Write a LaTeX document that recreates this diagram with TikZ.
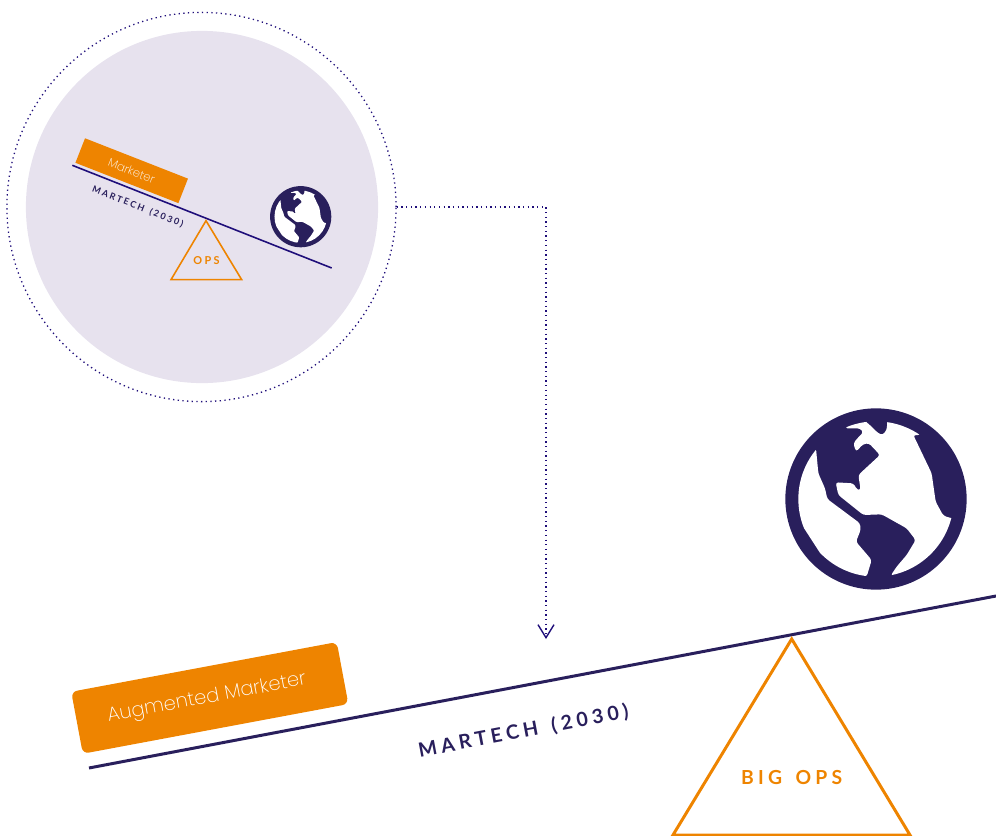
\documentclass[tikz,border=0pt]{standalone}
\usepackage{fontspec}
\usetikzlibrary{arrows.meta}
\newfontfamily\capsfont[LetterSpace=22, WordSpace=1.5]{Lato}
\newfontfamily\thinfont{Poppins ExtraLight}
\definecolor{navy}{HTML}{291F5C}
\definecolor{inkblue}{HTML}{1F0E7A}
\definecolor{amber}{HTML}{EE8400}
\definecolor{lilac}{HTML}{E7E2EE}

\begin{document}
\begin{tikzpicture}[x = 0.01cm, y = -0.01cm]
    \tikzset{
        plank/.style = {
            fill = amber,
            text = white,
            inner sep = 0pt,
            font = \thinfont
        },
        opslabel/.style = {
            text = amber,
            inner sep = 0pt
        },
        beamlabel/.style = {
            text = navy,
            inner sep = 0pt
        },
        fulcrum/.style = {
            draw = amber,
            miter limit = 10
        },
        dottedline/.style = {
            draw = inkblue,
            line width = 0.37pt,
            dash pattern = on 0.37pt off 0.96pt
        }
    }

    \useasboundingbox (0, 0) rectangle (996, 836);

    % inset
    \node[circle, dottedline, inner sep = 0pt, minimum size = 3.89cm] (ring) at (201.5, 207) {};
    \node[circle, fill = lilac, inner sep = 0pt, minimum size = 3.52cm] (disc) at (202, 207) {};

    \coordinate (tip) at (546, 639);
    \draw[dottedline, -{Straight Barb[length = 0.13cm, width = 0.16cm, line width = 0.4pt]}] (ring.east) -| (tip);

    % both globes
    \foreach \x/\y/\s in {876/499/0.3333, 300.7/216.7/0.1125}{
        \begin{scope}[shift = {(\x, \y)}, scale = \s, shift = {(-318, -312)}]
            \fill[navy] (318, 312) circle (272);
            \begin{scope}
                \clip (318, 312) circle (233);
                \fill[white, rounded corners = {\s * 2.3pt}]
                    (225, 100) -- (245, 100) -- (270, 100) -- (280, 112) -- (262, 130) -- (250, 145)
                    -- (258, 170) -- (280, 147) -- (297, 145) -- (330, 180) -- (265, 240) -- (272, 285)
                    -- (262, 285) -- (250, 265) -- (197, 262) -- (205, 300) -- (280, 360) -- (335, 358)
                    -- (410, 400) -- (437, 435) -- (410, 480) -- (380, 515) -- (362, 542)
                    -- (450, 600) -- (620, 500) -- (620, 372) -- (545, 370) -- (520, 362) -- (497, 320)
                    -- (485, 235) -- (430, 120) -- (452, 120) -- (440, 70) -- (352, 50) -- (352, 82)
                    -- (350, 105) -- (338, 120) -- (325, 115) -- (305, 95) -- (290, 82) -- (265, 60)
                    -- cycle;
                \fill[white, rounded corners = {\s * 2.3pt}]
                    (138, 160) -- (145, 235) -- (165, 280) -- (172, 312) -- (270, 385) -- (272, 405)
                    -- (258, 440) -- (305, 495) -- (290, 545) -- (180, 520) -- (70, 350) -- (100, 200)
                    -- cycle;
            \end{scope}
        \end{scope}
    }

    % small seesaw
    \coordinate (sa) at (72.3, 165.3);
    \coordinate (sb) at (331.7, 268);
    \draw[inkblue, line width = 0.45pt] (sa) -- (sb);
    \node[plank, rotate = -21.4, minimum width = 1.105cm, minimum height = 0.263cm] (marketer) at (131.7, 170.7)
        {\fontsize{3.3}{4}\selectfont Marketer};
    \node[beamlabel, rotate = -21.6] (smallbeam) at (137.8, 206.7)
        {\capsfont\bfseries\fontsize{2.55}{3}\selectfont MARTECH (2030)};
    \coordinate (st) at (206, 220.7);
    \coordinate (sl) at (171, 279.7);
    \coordinate (sr) at (241.7, 279.7);
    \draw[fulcrum, line width = 0.45pt] (st) -- (sl) -- (sr) -- cycle;
    \node[opslabel] (ops) at (206.5, 261) {\capsfont\bfseries\fontsize{3.1}{4}\selectfont OPS};

    % big seesaw
    \coordinate (ba) at (89, 768);
    \coordinate (bb) at (996, 596);
    \draw[navy, line width = 0.85pt] (ba) -- (bb);
    \node[plank, rotate = 10.6, rounded corners = 0.06cm, minimum width = 2.7cm, minimum height = 0.63cm] (augmented) at (209.8, 697.9)
        {\hspace{-0.06cm}\fontsize{5.55}{7}\selectfont Augmented Marketer};
    \node[beamlabel, rotate = 10.7] (bigbeam) at (523.5, 731.5)
        {\capsfont\bfseries\fontsize{5.6}{7}\selectfont MARTECH (2030)};
    \coordinate (bt) at (791.7, 639);
    \coordinate (bl) at (673, 835);
    \coordinate (br) at (910, 835);
    \draw[fulcrum, line width = 0.85pt] (bt) -- (bl) -- (br) -- cycle;
    \node[opslabel] (bigops) at (791.7, 778) {\capsfont\bfseries\fontsize{5.5}{7}\selectfont BIG OPS};

\end{tikzpicture}
\end{document}
